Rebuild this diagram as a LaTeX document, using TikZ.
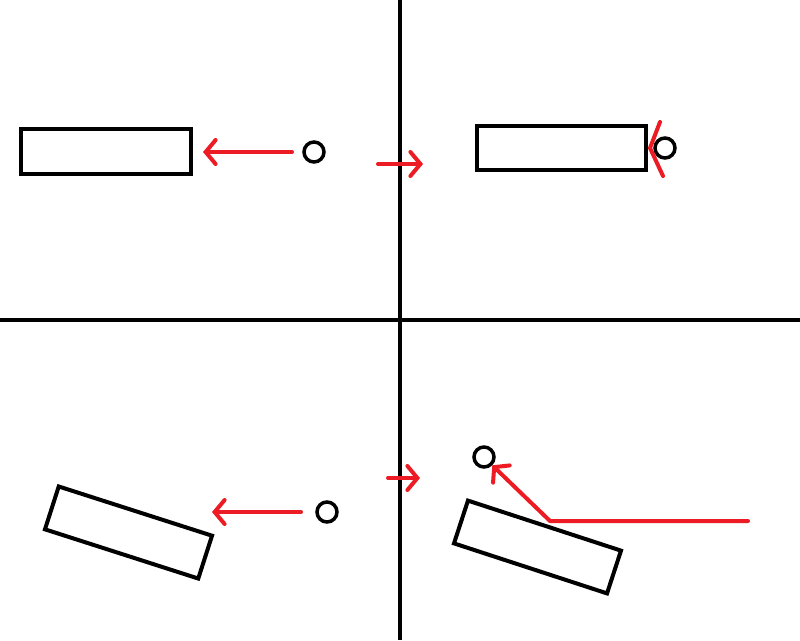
\documentclass[tikz,border=0pt]{standalone}
\usetikzlibrary{arrows.meta}
\definecolor{pred}{RGB}{237,28,36}
\begin{document}
\begin{tikzpicture}[x=1pt,y=-1pt,
  blk/.style={draw=black,line width=4pt,line join=miter},
  box/.style={blk,rectangle,inner sep=0pt,minimum width=#1},
  ball/.style={draw=black,line width=3.5pt,circle,inner sep=0pt,minimum size=20pt},
  rarr/.style={draw=pred,line width=4pt,line cap=round,-{Straight Barb[length=10pt,width=24pt,line cap=round]}},
  rline/.style={draw=pred,line width=4pt,line cap=round,line join=round}]
\useasboundingbox (0,0) rectangle (800,640);
\fill[white] (0,0) rectangle (800,640);
% axes
\coordinate (vt) at (400,0); \coordinate (vb) at (400,640);
\coordinate (hl) at (0,320); \coordinate (hr) at (800,320);
\draw[line width=4pt] (vt) -- (vb);
\draw[line width=4pt] (hl) -- (hr);
% top-left
\node[box=170pt,minimum height=45pt] (r1) at (106,151.5) {};
\node[ball] (c1) at (314,152) {};
\coordinate (a1s) at (292,152); \coordinate (a1e) at (203,152);
\draw[rarr] (a1s) -- (a1e);
% middle top arrow
\coordinate (m1s) at (378,164); \coordinate (m1e) at (423,164);
\draw[rarr] (m1s) -- (m1e);
% top-right
\node[box=169pt,minimum height=44pt] (r2) at (561.5,148) {};
\node[ball] (c2) at (665,148) {};
\coordinate (k1) at (660,122); \coordinate (k2) at (650,148); \coordinate (k3) at (663,176);
\draw[rline] (k1) -- (k2) -- (k3);
% bottom-left
\node[box=161pt,minimum height=45pt,rotate=-17.8] (r3) at (128.5,532.5) {};
\node[ball] (c3) at (327,512) {};
\coordinate (a3s) at (301,512); \coordinate (a3e) at (212,512);
\draw[rarr] (a3s) -- (a3e);
% middle bottom arrow
\coordinate (m2s) at (388,478); \coordinate (m2e) at (420,478);
\draw[rarr] (m2s) -- (m2e);
% bottom-right
\node[box=161pt,minimum height=45pt,rotate=-18.1] (r4) at (537.5,547) {};
\node[ball] (c4) at (484,457) {};
\coordinate (p1) at (748,521); \coordinate (p2) at (550,521);
\draw[rarr,line join=round] (p1) -- (p2) -- (c4.-45);
\end{tikzpicture}
\end{document}
